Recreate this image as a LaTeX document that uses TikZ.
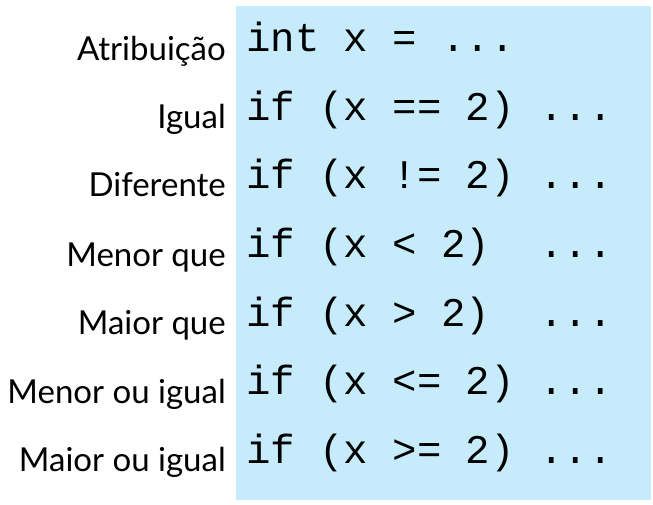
\documentclass[tikz,border=0pt]{standalone}
\usepackage{fontspec}
\setmainfont{Lato}
\newfontfamily\codefont{Liberation Mono}
\usetikzlibrary{positioning}
\definecolor{codebg}{RGB}{198,236,252}

\begin{document}
\begin{tikzpicture}[x=1bp,y=-1bp]
\tikzstyle{label}=[anchor=base east,inner sep=0pt,font=\fontsize{33bp}{33bp}\selectfont]
\tikzstyle{code}=[anchor=base west,inner sep=0pt,font=\codefont\fontsize{40.7bp}{40.7bp}\selectfont]
\useasboundingbox (0,0) rectangle (653,505);
\fill[codebg] (236,6) rectangle (651,500);

\node[label](atrib) at (226,61) {Atribuição};
\node[label](igual) at (226,129) {Igual};
\node[label](dif) at (226,197) {Diferente};
\node[label](menor) at (226,266) {Menor que};
\node[label](maior) at (226,334) {Maior que};
\node[label](menorig) at (226,403) {Menor ou igual};
\node[label](maiorig) at (226,471) {Maior ou igual};

\node[code](catrib) at (246,52) {int x = ...};
\node[code](cigual) at (246,120.5) {if (x == 2) ...};
\node[code](cdif) at (246,189) {if (x != 2) ...};
\node[code](cmenor) at (246,257.5) {if (x < 2)~~...};
\node[code](cmaior) at (246,326) {if (x > 2)~~...};
\node[code](cmenorig) at (246,394.5) {if (x <= 2) ...};
\node[code](cmaiorig) at (246,463) {if (x >= 2) ...};
\end{tikzpicture}
\end{document}
